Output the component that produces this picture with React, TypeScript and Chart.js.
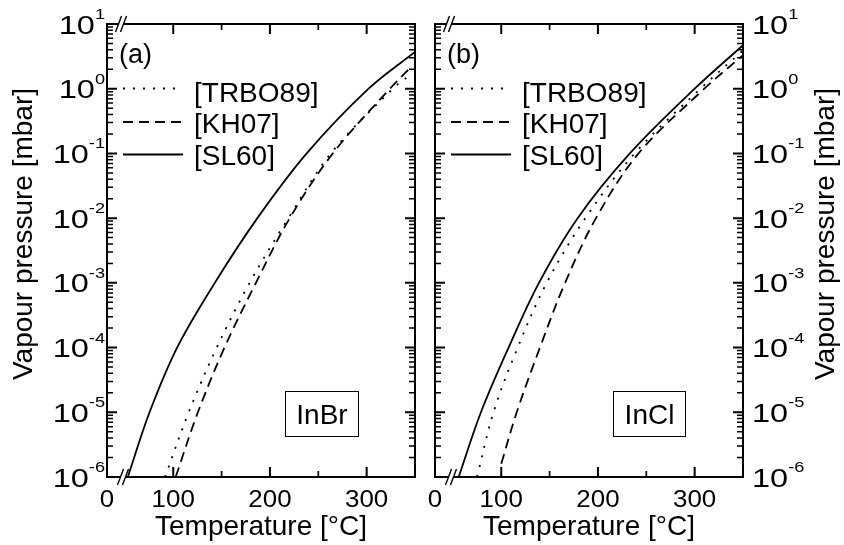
import React, { useEffect, useRef } from "react";
import { Chart, registerables } from "chart.js";

Chart.register(...registerables);

// ---------- data ----------
const seriesLabels = ["[TRBO89]", "[KH07]", "[SL60]"];
const panelLetters = ["(a)", "(b)"];
const compounds = ["InBr", "InCl"];

// InBr (temperature in °C, vapour pressure in mbar)
const inbrTrbo89T = [91.5, 116, 145, 179, 219, 263, 327, 343];
const inbrTrbo89P = [1e-6, 1e-5, 1e-4, 1e-3, 1e-2, 1e-1, 1, 1.55];
const inbrKh07T = [102.5, 125.5, 153, 185.5, 220.5, 265, 324, 343];
const inbrKh07P = [1e-6, 1e-5, 1e-4, 1e-3, 1e-2, 1e-1, 1, 1.95];
const inbrSl60T = [53, 75.5, 104, 143, 187, 238, 302, 350];
const inbrSl60P = [1e-6, 1e-5, 1e-4, 1e-3, 1e-2, 1e-1, 1, 3.7];

// InCl
const inclTrbo89T = [75, 92, 117, 147, 187, 238, 306, 350];
const inclTrbo89P = [1e-6, 1e-5, 1e-4, 1e-3, 1e-2, 1e-1, 1, 3.9];
const inclKh07T = [100, 116, 140, 166, 198, 242, 310, 350];
const inclKh07P = [1.6e-6, 1e-5, 1e-4, 1e-3, 1e-2, 1e-1, 1, 3.3];
const inclSl60T = [56, 79, 107.6, 139, 179, 233, 300, 350];
const inclSl60P = [1e-6, 1e-5, 1e-4, 1e-3, 1e-2, 1e-1, 1, 4.7];

// axes
const xMin = 31.5;
const xMax = 350;
const xStartLabel = "0";
const xMajorTicks = [100, 200, 300];
const xMinorTicks = [150, 250];
const yMin = 1e-6;
const yMax = 10;
const yDecades = [-6, -5, -4, -3, -2, -1, 0, 1];
const xTitle = "Temperature [°C]";
const yTitle = "Vapour pressure [mbar]";

// ---------- styling ----------
const FONT = '"Liberation Sans", Arial, Helvetica, sans-serif';
const dashes = [[2, 8], [10, 6], []];
const CANVAS_W = 422;
const CANVAS_H = 545;
const TICK_COLOR = "#000";

function txt(ctx: CanvasRenderingContext2D, s: string, x: number, y: number, size: number, align: CanvasTextAlign, sx = 1) {
  ctx.save();
  ctx.font = `${size}px ${FONT}`;
  ctx.textAlign = align;
  ctx.textBaseline = "alphabetic";
  ctx.fillStyle = "#000";
  ctx.translate(x, y);
  ctx.scale(sx, 1);
  ctx.fillText(s, 0, 0);
  ctx.restore();
}

function measure(ctx: CanvasRenderingContext2D, s: string, size: number) {
  ctx.save();
  ctx.font = `${size}px ${FONT}`;
  const w = ctx.measureText(s).width;
  ctx.restore();
  return w;
}

function seg(ctx: CanvasRenderingContext2D, x1: number, y1: number, x2: number, y2: number, w: number) {
  ctx.lineWidth = w;
  ctx.beginPath();
  ctx.moveTo(x1, y1);
  ctx.lineTo(x2, y2);
  ctx.stroke();
}

function drawBreak(ctx: CanvasRenderingContext2D, cx: number, cy: number) {
  ctx.save();
  ctx.fillStyle = "#fff";
  ctx.beginPath();
  ctx.moveTo(cx - 3.5, cy + 2.5);
  ctx.lineTo(cx - 1.5, cy - 2.5);
  ctx.lineTo(cx + 3.5, cy - 2.5);
  ctx.lineTo(cx + 1.5, cy + 2.5);
  ctx.closePath();
  ctx.fill();
  ctx.strokeStyle = "#000";
  ctx.setLineDash([]);
  for (const o of [-2.5, 2.5]) {
    seg(ctx, cx + o - 3, cy + 8, cx + o + 3, cy - 8, 1.4);
  }
  ctx.restore();
}

const tickPlugin = {
  id: "inwardTicks",
  afterDraw(c: any) {
    const ctx = c.ctx;
    const a = c.chartArea;
    ctx.save();
    ctx.setLineDash([]);
    ctx.strokeStyle = TICK_COLOR;
    for (const d of yDecades) {
      const py = c.scales.y.getPixelForValue(Math.pow(10, d));
      ctx.lineWidth = 2;
      ctx.beginPath();
      ctx.moveTo(a.left, py);
      ctx.lineTo(a.left + 10, py);
      ctx.moveTo(a.right, py);
      ctx.lineTo(a.right - 10, py);
      ctx.stroke();
      if (d < 1) {
        ctx.lineWidth = 1.5;
        ctx.beginPath();
        for (let m = 2; m <= 9; m++) {
          const pm = c.scales.y.getPixelForValue(m * Math.pow(10, d));
          ctx.moveTo(a.left, pm);
          ctx.lineTo(a.left + 6, pm);
          ctx.moveTo(a.right, pm);
          ctx.lineTo(a.right - 6, pm);
        }
        ctx.stroke();
      }
    }
    for (const v of xMajorTicks) {
      const px = c.scales.x.getPixelForValue(v);
      ctx.lineWidth = 2;
      ctx.beginPath();
      ctx.moveTo(px, a.bottom);
      ctx.lineTo(px, a.bottom - 10);
      ctx.moveTo(px, a.top);
      ctx.lineTo(px, a.top + 10);
      ctx.stroke();
    }
    for (const v of xMinorTicks) {
      const px = c.scales.x.getPixelForValue(v);
      ctx.lineWidth = 1.7;
      ctx.beginPath();
      ctx.moveTo(px, a.bottom);
      ctx.lineTo(px, a.bottom - 6);
      ctx.moveTo(px, a.top);
      ctx.lineTo(px, a.top + 6);
      ctx.stroke();
    }
    ctx.restore();
  },
};

function makePlugin(panel: number) {
  return {
    id: "decor" + panel,
    afterDraw(chart: any) {
      const ctx: CanvasRenderingContext2D = chart.ctx;
      const area = chart.chartArea;
      const L = area.left, R = area.right, T = area.top, B = area.bottom;
      const xs = chart.scales.x;
      const ys = chart.scales.y;
      ctx.save();
      ctx.setLineDash([]);
      ctx.strokeStyle = "#000";
      ctx.fillStyle = "#000";

      // frame
      ctx.lineWidth = 2;
      ctx.strokeRect(L, T, R - L, B - T);

      // axis breaks
      drawBreak(ctx, L + 14, T);
      drawBreak(ctx, L + 16, B);

      // y tick labels
      const sxY = 1.3;
      yDecades.forEach((d) => {
        const py = ys.getPixelForValue(Math.pow(10, d));
        const exp = String(d);
        const w1 = measure(ctx, "10", 25) * sxY;
        const w2 = measure(ctx, exp, 14) * sxY;
        const x0 = panel === 0 ? L - 2 - (w1 + w2) : R + 9;
        txt(ctx, "10", x0, py + 9.5, 25, "left", sxY);
        txt(ctx, exp, x0 + w1, py - 5, 14, "left", sxY);
      });

      // x tick labels
      txt(ctx, xStartLabel, L, 507, 24, "center", 1.08);
      xMajorTicks.forEach((v) => {
        txt(ctx, String(v), xs.getPixelForValue(v), 507, 24, "center", 1.08);
      });

      // axis titles
      txt(ctx, xTitle, (L + R) / 2, 535, 28, "center");
      ctx.save();
      ctx.translate(panel === 0 ? 32 : R + 91, 234);
      ctx.rotate(-Math.PI / 2);
      txt(ctx, yTitle, 0, 0, 28, "center");
      ctx.restore();

      // panel letter
      txt(ctx, panelLetters[panel], L + 12, 63, 27, "left");

      // legend
      const lineYs = [88.5, 122, 154.5];
      const textYs = [101.5, 133, 165];
      chart.data.datasets.forEach((ds: any, i: number) => {
        ctx.save();
        ctx.strokeStyle = "#000";
        ctx.setLineDash(ds.borderDash || []);
        seg(ctx, L + 16, lineYs[i], L + 76, lineYs[i], ds.borderWidth);
        ctx.restore();
        txt(ctx, ds.label, L + 87, textYs[i], 28, "left");
      });

      // compound box
      const name = compounds[panel];
      const tw = measure(ctx, name, 28);
      const bw = Math.round(tw + 22);
      const bx = Math.round(L + 178) + 0.5;
      const by = Math.round(T + 367) + 0.5;
      const bh = 45;
      ctx.strokeStyle = "#000";
      ctx.lineWidth = 1;
      ctx.strokeRect(bx, by, bw, bh);
      txt(ctx, name, bx + bw / 2, by + bh / 2 + 10, 28, "center");

      ctx.restore();
    },
  };
}

function buildDatasets(panel: number) {
  const Ts = panel === 0 ? [inbrTrbo89T, inbrKh07T, inbrSl60T] : [inclTrbo89T, inclKh07T, inclSl60T];
  const Ps = panel === 0 ? [inbrTrbo89P, inbrKh07P, inbrSl60P] : [inclTrbo89P, inclKh07P, inclSl60P];
  return seriesLabels.map((label, i) => ({
    label,
    data: Ts[i].map((t, k) => ({ x: t, y: Ps[i][k] })),
    borderColor: "#000",
    borderWidth: 1.8,
    borderDash: dashes[i],
    borderCapStyle: "butt" as const,
    pointRadius: 0,
    fill: false,
    tension: 0.35,
    clip: 0,
  }));
}

function Panel({ index }: { index: number }) {
  const ref = useRef<HTMLCanvasElement | null>(null);
  useEffect(() => {
    if (!ref.current) return;
    const padding =
      index === 0
        ? { left: 107, right: CANVAS_W - 415, top: 24, bottom: CANVAS_H - 477 }
        : { left: 435 - CANVAS_W, right: 2 * CANVAS_W - 743, top: 24, bottom: CANVAS_H - 477 };
    const chart = new Chart(ref.current, {
      type: "line",
      data: { datasets: buildDatasets(index) as any },
      options: {
        responsive: false,
        animation: false,
        devicePixelRatio: 1,
        layout: { padding },
        plugins: { legend: { display: false }, tooltip: { enabled: false } },
        scales: {
          x: { type: "linear", min: xMin, max: xMax, display: false },
          y: { type: "logarithmic", min: yMin, max: yMax, display: false },
        },
      },
      plugins: [makePlugin(index), tickPlugin],
    });
    return () => chart.destroy();
  }, [index]);
  return (
    <canvas
      ref={ref}
      width={CANVAS_W}
      height={CANVAS_H}
      style={{ position: "absolute", top: 0, left: index * CANVAS_W, width: CANVAS_W, height: CANVAS_H }}
    />
  );
}

export default function App() {
  return (
    <div style={{ position: "absolute", left: 0, top: 0, width: 844, height: 545, background: "#fff" }}>
      <Panel index={0} />
      <Panel index={1} />
    </div>
  );
}
